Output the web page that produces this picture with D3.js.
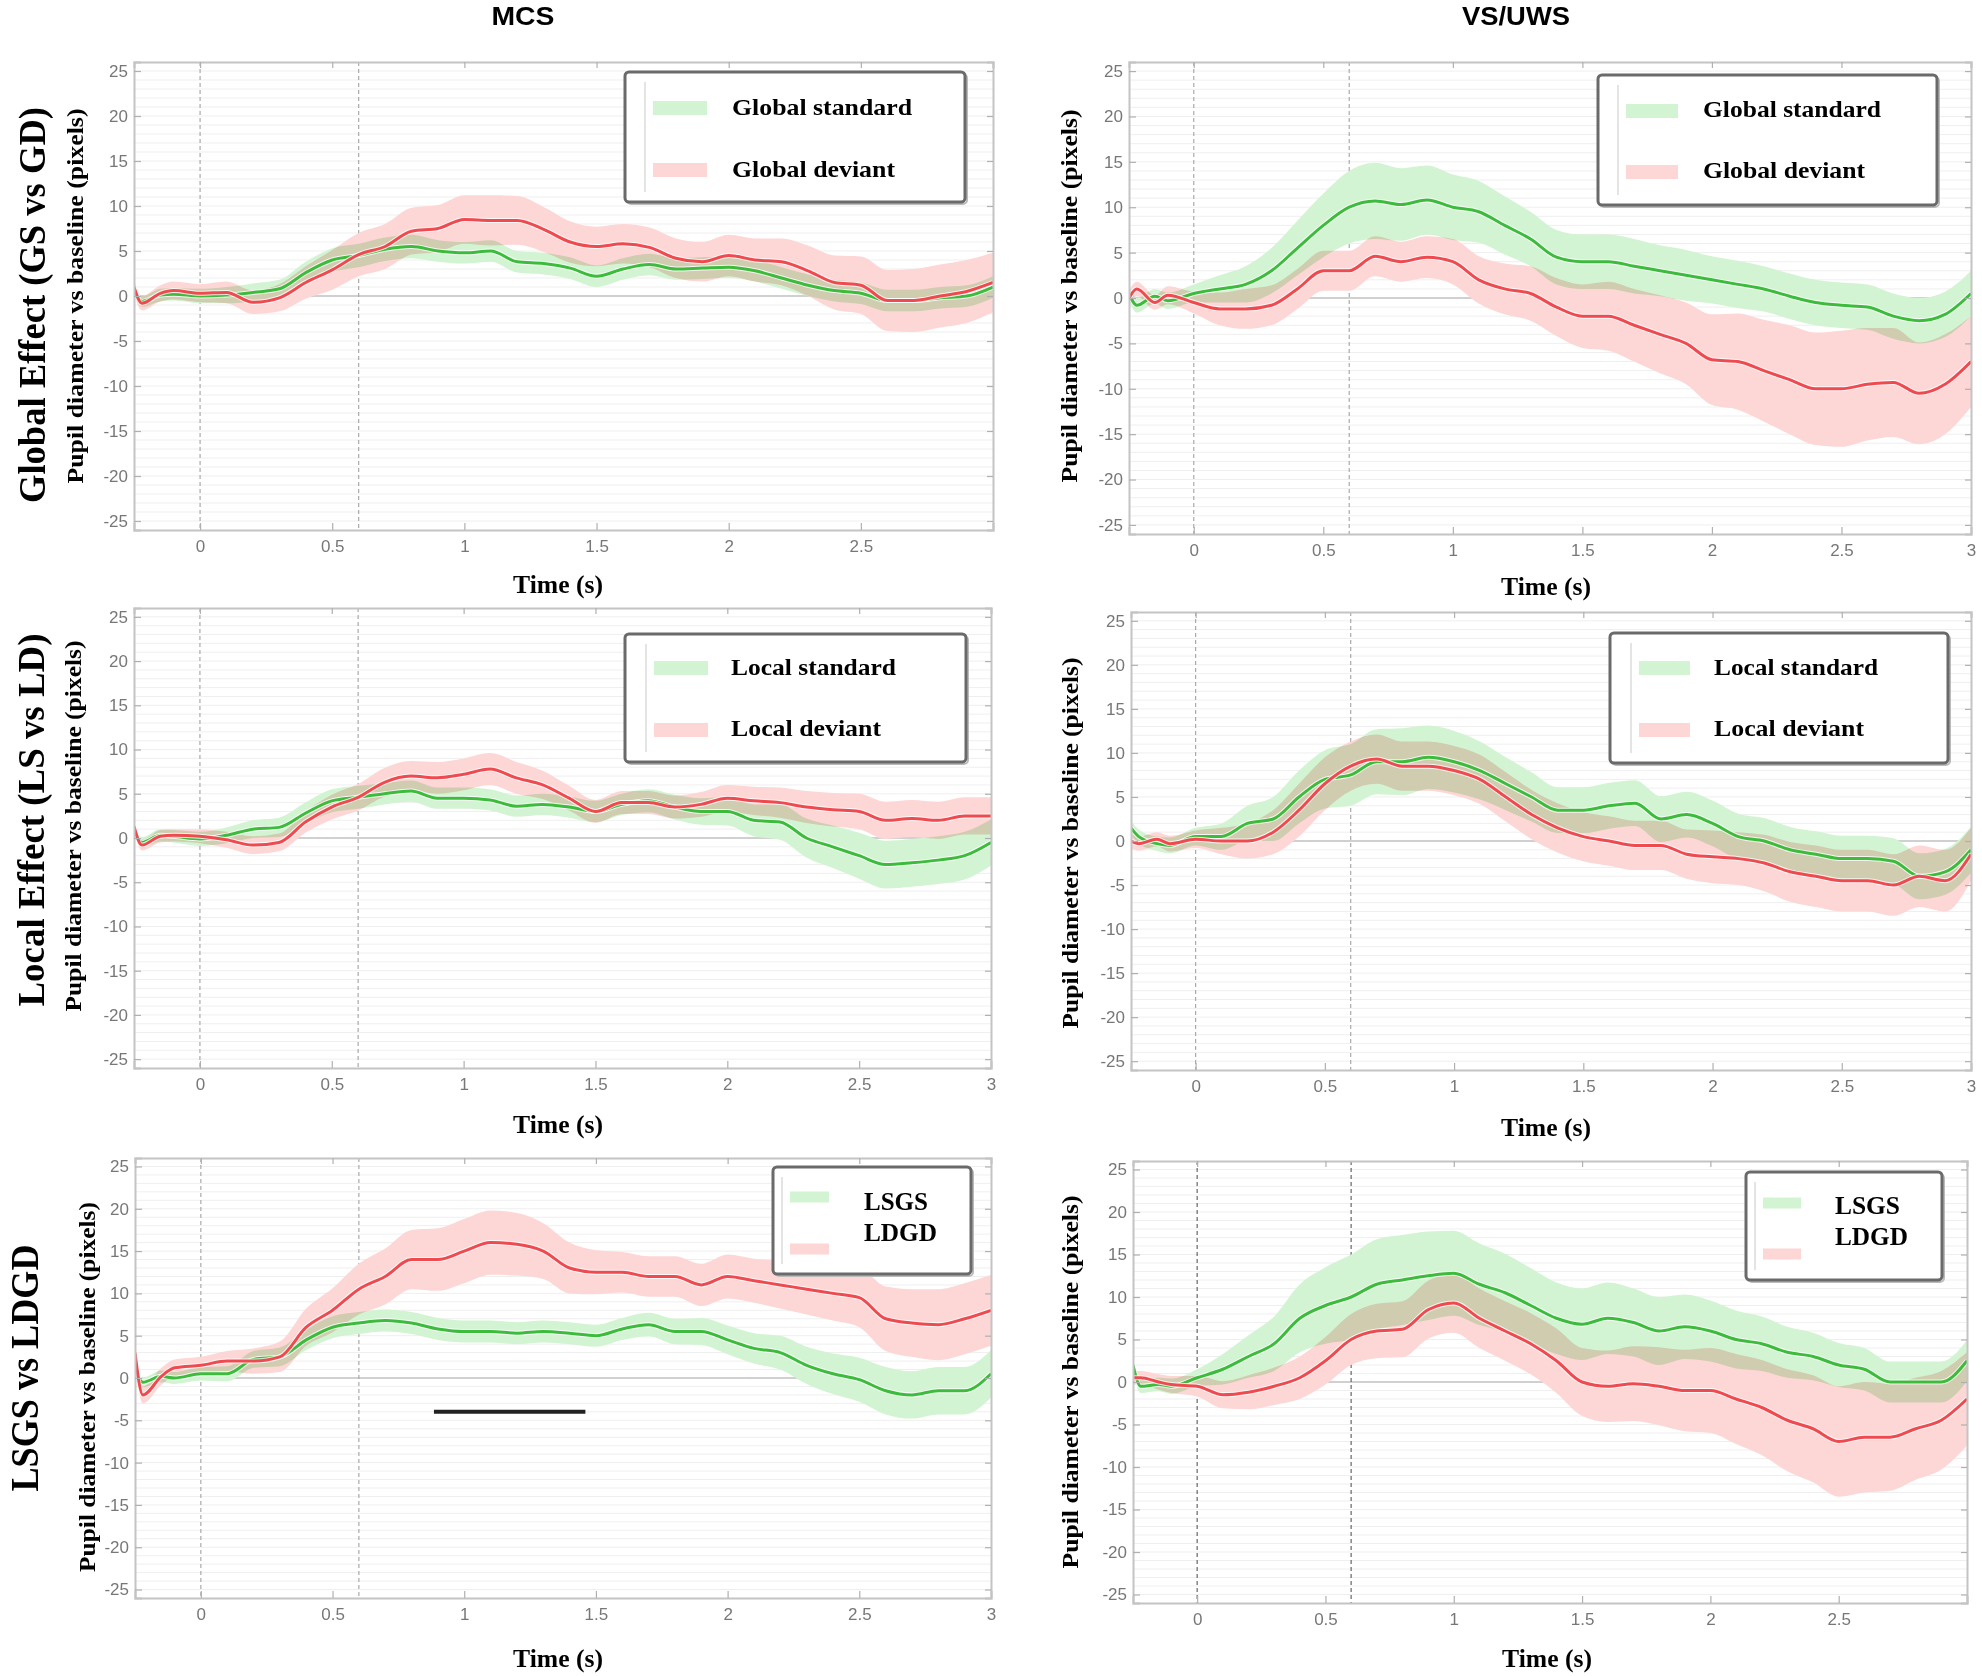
<!DOCTYPE html>
<html>
<head>
<meta charset="utf-8">
<script src="https://cdn.jsdelivr.net/npm/d3@7"></script>
<style>
  body { margin: 0; background: #fff; }
  svg { display: block; }
</style>
</head>
<body>
<svg id="chart" width="1982" height="1676"></svg>
<script>
// time axis (s) shared by every curve
const time = [-0.25, -0.22, -0.15, -0.1, 0, 0.1, 0.2, 0.3, 0.4, 0.5, 0.6, 0.7, 0.8, 0.9, 1.0,
  1.1, 1.2, 1.3, 1.4, 1.5, 1.6, 1.7, 1.8, 1.9, 2.0, 2.1, 2.2, 2.3, 2.4, 2.5, 2.6, 2.7, 2.8, 2.9, 3.0];
const xTicks = [0, 0.5, 1, 1.5, 2, 2.5, 3];
const yTicks = [-25, -20, -15, -10, -5, 0, 5, 10, 15, 20, 25];
const columnTitles = ["MCS", "VS/UWS"];
const rowTitles = ["Global Effect (GS vs GD)", "Local Effect (LS vs LD)", "LSGS vs LDGD"];

// MCS - global standard / deviant (mean and half width of the band)
const mcsGS = [0.8, -0.6, 0.1, 0.2, 0, 0.1, 0.4, 0.8, 2.6, 4.0, 4.5, 5.2, 5.5, 5.0, 4.8, 5.0, 3.8, 3.6, 3.1, 2.2, 3.0, 3.5, 3.0, 3.1, 3.2, 2.8, 2.0, 1.2, 0.6, 0.3, -0.5, -0.5, -0.2, 0.0, 1.0];
const mcsGSerr = [0.6, 0.6, 0.7, 0.7, 0.8, 0.9, 1.0, 1.0, 1.2, 1.3, 1.3, 1.3, 1.3, 1.2, 1.2, 1.2, 1.2, 1.2, 1.2, 1.2, 1.2, 1.2, 1.2, 1.2, 1.2, 1.2, 1.2, 1.2, 1.2, 1.2, 1.2, 1.2, 1.2, 1.2, 1.2];
const mcsGD = [1.0, -0.8, 0.3, 0.6, 0.3, 0.4, -0.7, -0.2, 1.5, 2.9, 4.6, 5.5, 7.2, 7.5, 8.5, 8.4, 8.4, 7.4, 6.0, 5.5, 5.8, 5.4, 4.2, 3.8, 4.5, 4.0, 3.8, 2.8, 1.5, 1.2, -0.5, -0.5, 0.0, 0.5, 1.5];
const mcsGDerr = [0.8, 0.8, 0.9, 1.0, 1.0, 1.2, 1.3, 1.5, 1.8, 2.2, 2.4, 2.5, 2.6, 2.6, 2.7, 2.8, 2.7, 2.5, 2.3, 2.2, 2.2, 2.2, 2.2, 2.2, 2.3, 2.4, 2.6, 2.8, 3.0, 3.2, 3.4, 3.5, 3.5, 3.5, 3.3];

// VS/UWS - global standard / deviant
const vsGS = [0.5, -0.8, 0.2, -0.3, 0.5, 1.0, 1.5, 3.0, 5.5, 8.0, 10.0, 10.7, 10.3, 10.8, 10.0, 9.5, 8.0, 6.5, 4.5, 4.0, 4.0, 3.5, 3.0, 2.5, 2.0, 1.5, 1.0, 0.2, -0.5, -0.8, -1.0, -2.0, -2.5, -1.8, 0.5];
const vsGSerr = [0.8, 0.8, 0.8, 0.9, 1.0, 1.5, 2.0, 2.5, 3.0, 3.5, 4.0, 4.2, 4.0, 3.8, 3.6, 3.4, 3.2, 3.0, 3.0, 3.0, 3.0, 3.0, 2.8, 2.8, 2.6, 2.6, 2.5, 2.5, 2.5, 2.5, 2.5, 2.5, 2.5, 2.5, 2.5];
const vsGD = [0.0, 1.0, -0.5, 0.3, -0.5, -1.2, -1.2, -0.8, 1.0, 3.0, 3.0, 4.6, 4.0, 4.5, 4.0, 2.0, 1.0, 0.5, -1.0, -2.0, -2.0, -3.0, -4.0, -5.0, -6.8, -7.0, -8.0, -9.0, -10.0, -10.0, -9.5, -9.3, -10.5, -9.5, -7.0];
const vsGDerr = [0.8, 0.8, 0.8, 1.0, 1.2, 1.8, 2.2, 2.2, 2.2, 2.2, 2.2, 2.2, 2.2, 2.3, 2.5, 2.6, 2.8, 3.0, 3.2, 3.5, 3.8, 4.0, 4.3, 4.5, 5.0, 5.3, 5.6, 6.0, 6.2, 6.4, 6.2, 6.0, 5.6, 5.5, 5.0];

// MCS - local standard / deviant
const mcsLS = [1.0, -0.5, 0.3, 0.2, -0.1, 0.3, 1.0, 1.2, 2.8, 4.2, 4.6, 5.0, 5.3, 4.5, 4.5, 4.3, 3.6, 3.8, 3.5, 3.0, 3.8, 4.2, 3.5, 3.0, 3.0, 2.0, 1.8, 0.0, -1.0, -2.0, -3.0, -2.8, -2.5, -2.0, -0.5];
const mcsLSerr = [0.6, 0.6, 0.7, 0.7, 0.8, 0.9, 1.0, 1.1, 1.2, 1.3, 1.3, 1.2, 1.2, 1.2, 1.2, 1.2, 1.2, 1.2, 1.2, 1.2, 1.2, 1.3, 1.4, 1.5, 1.6, 1.8, 2.0, 2.2, 2.4, 2.6, 2.7, 2.7, 2.7, 2.7, 2.6];
const mcsLD = [1.3, -0.8, 0.2, 0.3, 0.2, -0.2, -0.8, -0.5, 1.8, 3.5, 4.6, 6.3, 7.0, 6.8, 7.2, 7.8, 6.8, 6.0, 4.5, 3.0, 4.0, 4.0, 3.5, 3.8, 4.5, 4.2, 4.0, 3.5, 3.2, 3.0, 2.0, 2.2, 2.0, 2.5, 2.5];
const mcsLDerr = [0.6, 0.6, 0.7, 0.7, 0.8, 0.9, 1.0, 1.0, 1.2, 1.4, 1.5, 1.6, 1.7, 1.8, 1.8, 1.8, 1.8, 1.6, 1.4, 1.3, 1.3, 1.3, 1.3, 1.4, 1.5, 1.6, 1.7, 1.8, 1.9, 2.0, 2.1, 2.1, 2.1, 2.1, 2.1];

// VS/UWS - local standard / deviant
const vsLS = [1.5, 0.5, -0.3, -0.5, 0.5, 0.5, 2.0, 2.5, 5.0, 7.0, 7.5, 9.0, 9.0, 9.5, 9.0, 8.0, 6.5, 5.0, 3.5, 3.5, 4.0, 4.3, 2.5, 3.0, 2.0, 0.5, 0.0, -1.0, -1.5, -2.0, -2.0, -2.3, -4.0, -3.5, -1.0];
const vsLSerr = [0.8, 0.8, 0.8, 0.9, 1.0, 1.5, 2.0, 2.5, 3.0, 3.3, 3.5, 3.7, 3.8, 3.6, 3.5, 3.3, 3.0, 2.8, 2.6, 2.6, 2.6, 2.6, 2.6, 2.6, 2.6, 2.6, 2.6, 2.6, 2.6, 2.6, 2.6, 2.6, 2.6, 2.6, 2.6];
const vsLD = [0.0, -0.3, 0.2, -0.3, 0.2, 0.0, 0.0, 1.0, 3.5, 6.5, 8.5, 9.3, 8.5, 8.5, 8.0, 7.0, 5.0, 3.0, 1.5, 0.5, 0.0, -0.5, -0.5, -1.5, -1.8, -2.0, -2.5, -3.5, -4.0, -4.5, -4.5, -5.0, -4.0, -4.5, -1.5];
const vsLDerr = [0.8, 0.8, 0.8, 0.9, 1.0, 1.5, 2.0, 2.5, 3.0, 3.0, 2.8, 2.8, 2.8, 2.8, 2.8, 2.8, 2.8, 2.8, 2.8, 2.8, 2.8, 2.8, 2.8, 2.8, 3.0, 3.0, 3.2, 3.4, 3.5, 3.5, 3.5, 3.5, 3.5, 3.5, 3.0];

// MCS - LSGS / LDGD
const mcsLSGS = [1.0, -0.5, 0.2, 0.0, 0.5, 0.5, 2.2, 2.5, 4.5, 6.0, 6.5, 6.8, 6.5, 5.8, 5.5, 5.5, 5.3, 5.5, 5.3, 5.0, 5.8, 6.3, 5.5, 5.5, 4.5, 3.5, 3.0, 1.5, 0.5, -0.2, -1.5, -2.0, -1.5, -1.5, 0.5];
const mcsLSGSerr = [0.6, 0.6, 0.7, 0.7, 0.8, 0.9, 1.0, 1.1, 1.2, 1.3, 1.3, 1.3, 1.3, 1.3, 1.3, 1.3, 1.3, 1.3, 1.3, 1.3, 1.3, 1.4, 1.5, 1.6, 1.7, 1.8, 2.0, 2.2, 2.4, 2.6, 2.8, 2.8, 2.8, 2.8, 2.8];
const mcsLDGD = [3.0, -2.0, 0.2, 1.2, 1.5, 2.0, 2.0, 2.5, 6.0, 8.0, 10.5, 12.0, 14.0, 14.0, 15.0, 16.0, 15.8, 15.0, 13.0, 12.5, 12.5, 12.0, 12.0, 11.0, 12.0, 11.5, 11.0, 10.5, 10.0, 9.5, 7.0, 6.5, 6.3, 7.0, 8.0];
const mcsLDGDerr = [1.0, 1.0, 1.0, 1.0, 1.0, 1.2, 1.5, 1.8, 2.2, 2.6, 3.0, 3.3, 3.5, 3.7, 3.8, 3.8, 3.7, 3.3, 3.0, 2.6, 2.4, 2.4, 2.4, 2.5, 2.6, 2.6, 2.8, 3.0, 3.2, 3.5, 3.8, 4.0, 4.2, 4.2, 4.2];
const mcsSignificant = [0.885, 1.46, -4];   // start (s), end (s), height

// VS/UWS - LSGS / LDGD
const vsLSGS = [2.0, -0.5, -0.3, -0.5, 0.5, 1.5, 3.0, 4.5, 7.5, 9.0, 10.0, 11.5, 12.0, 12.5, 12.8, 11.5, 10.5, 9.0, 7.5, 6.8, 7.5, 7.0, 6.0, 6.5, 6.0, 5.0, 4.5, 3.5, 3.0, 2.0, 1.5, 0.0, 0.0, 0.0, 2.5];
const vsLSGSerr = [0.8, 0.8, 0.8, 0.9, 1.0, 1.8, 2.5, 3.2, 4.0, 4.5, 5.0, 5.3, 5.3, 5.2, 5.0, 4.8, 4.6, 4.4, 4.2, 4.2, 4.2, 4.0, 4.0, 3.8, 3.6, 3.4, 3.2, 3.0, 2.8, 2.6, 2.5, 2.4, 2.4, 2.4, 2.4];
const vsLDGD = [0.5, 0.5, 0.0, -0.3, -0.5, -1.5, -1.2, -0.5, 0.5, 2.5, 5.0, 6.0, 6.2, 8.5, 9.3, 7.5, 6.0, 4.5, 2.5, 0.0, -0.5, -0.2, -0.5, -1.0, -1.0, -2.0, -3.0, -4.5, -5.5, -7.0, -6.5, -6.5, -5.5, -4.5, -2.0];
const vsLDGDerr = [0.8, 0.8, 0.9, 1.0, 1.2, 1.6, 2.0, 2.2, 2.5, 2.8, 3.0, 3.2, 3.3, 3.4, 3.5, 3.5, 3.5, 3.6, 3.8, 4.0, 4.2, 4.4, 4.6, 4.8, 5.0, 5.3, 5.6, 6.0, 6.3, 6.5, 6.5, 6.3, 6.0, 5.8, 5.5];

const SERIF = "'Liberation Serif', 'Times New Roman', serif";
const SANS = "'Liberation Sans', Arial, sans-serif";
const colors = {
  stdLine: "#3dbb3d", devLine: "#ee4a4f",
  stdBand: "#d2f4d2", devBand: "#fdd6d6"
};

const panels = [
  { box: [134, 62, 993, 530], std: mcsGS, stdErr: mcsGSerr, dev: mcsGD, devErr: mcsGDerr,
    names: ["Global standard", "Global deviant"], lastTick: false, dash: "#aaa",
    ylab: [83, 296, 375], xlab: [558, 593],
    legend: { box: [625, 72, 965, 202], sw: [653, 707], sy: [108, 170], sh: 14, tx: 732, ty: [115, 177], len: [180, 163], fs: 23 } },
  { box: [1129, 62, 1971, 534], std: vsGS, stdErr: vsGSerr, dev: vsGD, devErr: vsGDerr,
    names: ["Global standard", "Global deviant"], lastTick: true, dash: "#aaa",
    ylab: [1077, 296, 373], xlab: [1546, 595],
    legend: { box: [1598, 75, 1937, 205], sw: [1626, 1678], sy: [111, 172], sh: 14, tx: 1703, ty: [117, 178], len: [178, 162], fs: 23 } },
  { box: [134, 608, 991, 1068], std: mcsLS, stdErr: mcsLSerr, dev: mcsLD, devErr: mcsLDerr,
    names: ["Local standard", "Local deviant"], lastTick: true, dash: "#aaa",
    ylab: [81, 826, 371], xlab: [558, 1133],
    legend: { box: [625, 634, 966, 762], sw: [654, 708], sy: [668, 730], sh: 14, tx: 731, ty: [675, 736], len: [165, 150], fs: 23 } },
  { box: [1131, 612, 1971, 1070], std: vsLS, stdErr: vsLSerr, dev: vsLD, devErr: vsLDerr,
    names: ["Local standard", "Local deviant"], lastTick: true, dash: "#aaa",
    ylab: [1078, 843, 371], xlab: [1546, 1136],
    legend: { box: [1610, 633, 1948, 763], sw: [1639, 1690], sy: [668, 730], sh: 14, tx: 1714, ty: [675, 736], len: [164, 150], fs: 23 } },
  { box: [135, 1158, 991, 1598], std: mcsLSGS, stdErr: mcsLSGSerr, dev: mcsLDGD, devErr: mcsLDGDerr,
    names: ["LSGS", "LDGD"], lastTick: true, dash: "#aaa", sig: mcsSignificant,
    ylab: [95, 1387, 370], xlab: [558, 1667],
    legend: { box: [773, 1167, 971, 1274], sw: [790, 829], sy: [1197, 1249], sh: 11, tx: 864, ty: [1210, 1241], len: [64, 73], fs: 25 } },
  { box: [1133, 1161, 1967, 1603], std: vsLSGS, stdErr: vsLSGSerr, dev: vsLDGD, devErr: vsLDGDerr,
    names: ["LSGS", "LDGD"], lastTick: false, dash: "#666",
    ylab: [1078, 1382, 373], xlab: [1547, 1667],
    legend: { box: [1746, 1172, 1942, 1280], sw: [1763, 1801], sy: [1203, 1254], sh: 11, tx: 1835, ty: [1214, 1245], len: [65, 73], fs: 25 } }
];

const svg = d3.select("#chart");

function vText(x, y, txt, size, len) {
  svg.append("text")
    .attr("transform", "translate(" + x + "," + y + ") rotate(-90)")
    .attr("text-anchor", "middle")
    .attr("textLength", len)
    .attr("lengthAdjust", "spacingAndGlyphs")
    .style("font-family", SERIF)
    .style("font-weight", "bold")
    .style("font-size", size + "px")
    .text(txt);
}

function drawPanel(p, idx) {
  const [x0, y0, x1, y1] = p.box;
  const x = d3.scaleLinear().domain([-0.25, 3]).range([x0, x1]);
  const y = d3.scaleLinear().domain([-26, 26]).range([y1, y0]);
  const g = svg.append("g");

  const clipId = "clip" + idx;
  g.append("clipPath").attr("id", clipId)
    .append("rect").attr("x", x0).attr("y", y0).attr("width", x1 - x0).attr("height", y1 - y0);

  // faint minor grid every unit
  g.append("g").selectAll("line")
    .data(d3.range(-25, 26))
    .enter().append("line")
    .attr("x1", x0).attr("x2", x1)
    .attr("y1", d => y(d)).attr("y2", d => y(d))
    .attr("stroke", d => d === 0 ? "#d0d0d0" : "#efefef")
    .attr("stroke-width", d => d === 0 ? 1.8 : 1);

  // stimulus markers
  g.selectAll(".marker")
    .data([0, 0.6])
    .enter().append("line")
    .attr("x1", d => x(d)).attr("x2", d => x(d))
    .attr("y1", y0).attr("y2", y1)
    .attr("stroke", p.dash)
    .attr("stroke-width", 1.2)
    .attr("stroke-dasharray", "4,3");

  const plot = g.append("g").attr("clip-path", "url(#" + clipId + ")");
  const series = [
    { m: p.std, e: p.stdErr, band: colors.stdBand, line: colors.stdLine },
    { m: p.dev, e: p.devErr, band: colors.devBand, line: colors.devLine }
  ];

  const area = d3.area()
    .x(d => x(d.t))
    .y0(d => y(d.m - d.e))
    .y1(d => y(d.m + d.e))
    .curve(d3.curveMonotoneX);
  const line = d3.line()
    .x(d => x(d.t))
    .y(d => y(d.m))
    .curve(d3.curveMonotoneX);

  const rows = series.map(s => time.map((t, i) => ({ t: t, m: s.m[i], e: s.e[i] })));

  series.forEach((s, k) => {
    plot.append("path")
      .attr("d", area(rows[k]))
      .attr("fill", s.band)
      .style("mix-blend-mode", "multiply");
  });
  series.forEach((s, k) => {
    plot.append("path")
      .attr("d", line(rows[k]))
      .attr("fill", "none")
      .attr("stroke", "#fff")
      .attr("stroke-opacity", 0.8)
      .attr("stroke-width", 5);
    plot.append("path")
      .attr("d", line(rows[k]))
      .attr("fill", "none")
      .attr("stroke", s.line)
      .attr("stroke-width", 3);
  });

  if (p.sig) {
    g.append("line")
      .attr("x1", x(p.sig[0])).attr("x2", x(p.sig[1]))
      .attr("y1", y(p.sig[2])).attr("y2", y(p.sig[2]))
      .attr("stroke", "#222")
      .attr("stroke-width", 4);
  }

  // axes on all four sides, ticks pointing inward
  const fmt = d => (d === 3 && !p.lastTick) ? "" : String(d);
  const axes = [
    g.append("g").attr("transform", "translate(0," + y1 + ")")
      .call(d3.axisBottom(x).tickValues(xTicks).tickSize(-7).tickPadding(10).tickFormat(fmt)),
    g.append("g").attr("transform", "translate(" + x0 + ",0)")
      .call(d3.axisLeft(y).tickValues(yTicks).tickSize(-7).tickPadding(6).tickFormat(d => String(d))),
    g.append("g").attr("transform", "translate(0," + y0 + ")")
      .call(d3.axisTop(x).tickValues(xTicks).tickSize(-6).tickFormat("")),
    g.append("g").attr("transform", "translate(" + x1 + ",0)")
      .call(d3.axisRight(y).tickValues(yTicks).tickSize(-6).tickFormat(""))
  ];
  axes.forEach(a => {
    a.select(".domain").attr("stroke", "#c4c4c4").attr("stroke-width", 2);
    a.selectAll(".tick line").attr("stroke", "#b0b0b0").attr("stroke-width", 1.2);
    a.selectAll(".tick text")
      .attr("fill", "#777")
      .style("font-family", SANS)
      .style("font-size", "17px");
  });

  // legend
  const L = p.legend;
  const lg = g.append("g");
  lg.append("rect")
    .attr("x", L.box[0] + 2).attr("y", L.box[1] + 2)
    .attr("width", L.box[2] - L.box[0]).attr("height", L.box[3] - L.box[1])
    .attr("rx", 4)
    .attr("fill", "none").attr("stroke", "#bbb").attr("stroke-width", 2);
  lg.append("rect")
    .attr("x", L.box[0]).attr("y", L.box[1])
    .attr("width", L.box[2] - L.box[0]).attr("height", L.box[3] - L.box[1])
    .attr("rx", 4)
    .attr("fill", "#fff").attr("stroke", "#6a6a6a").attr("stroke-width", 3);
  lg.append("line")
    .attr("x1", L.sw[0] - 8).attr("x2", L.sw[0] - 8)
    .attr("y1", L.box[1] + 10).attr("y2", L.box[3] - 10)
    .attr("stroke", "#e4e4e4").attr("stroke-width", 2);
  [colors.stdBand, colors.devBand].forEach((c, k) => {
    lg.append("rect")
      .attr("x", L.sw[0]).attr("y", L.sy[k] - L.sh / 2)
      .attr("width", L.sw[1] - L.sw[0]).attr("height", L.sh)
      .attr("fill", c);
    lg.append("text")
      .attr("x", L.tx).attr("y", L.ty[k])
      .attr("textLength", L.len[k])
      .attr("lengthAdjust", "spacingAndGlyphs")
      .style("font-family", SERIF)
      .style("font-weight", "bold")
      .style("font-size", L.fs + "px")
      .text(p.names[k]);
  });

  // axis titles
  vText(p.ylab[0], p.ylab[1], "Pupil diameter vs baseline (pixels)", 23, p.ylab[2]);
  svg.append("text")
    .attr("x", p.xlab[0]).attr("y", p.xlab[1])
    .attr("text-anchor", "middle")
    .attr("textLength", 90)
    .attr("lengthAdjust", "spacingAndGlyphs")
    .style("font-family", SERIF)
    .style("font-weight", "bold")
    .style("font-size", "26px")
    .text("Time (s)");
}

panels.forEach(drawPanel);

// column titles
[[523, columnTitles[0], 63], [1516, columnTitles[1], 108]].forEach(c => {
  svg.append("text")
    .attr("x", c[0]).attr("y", 25)
    .attr("text-anchor", "middle")
    .attr("textLength", c[2])
    .attr("lengthAdjust", "spacingAndGlyphs")
    .style("font-family", SANS)
    .style("font-weight", "bold")
    .style("font-size", "26px")
    .text(c[1]);
});

// row titles
vText(45, 305, rowTitles[0], 38, 396);
vText(44, 820, rowTitles[1], 38, 373);
vText(38, 1368, rowTitles[2], 40, 247);
</script>
</body>
</html>
